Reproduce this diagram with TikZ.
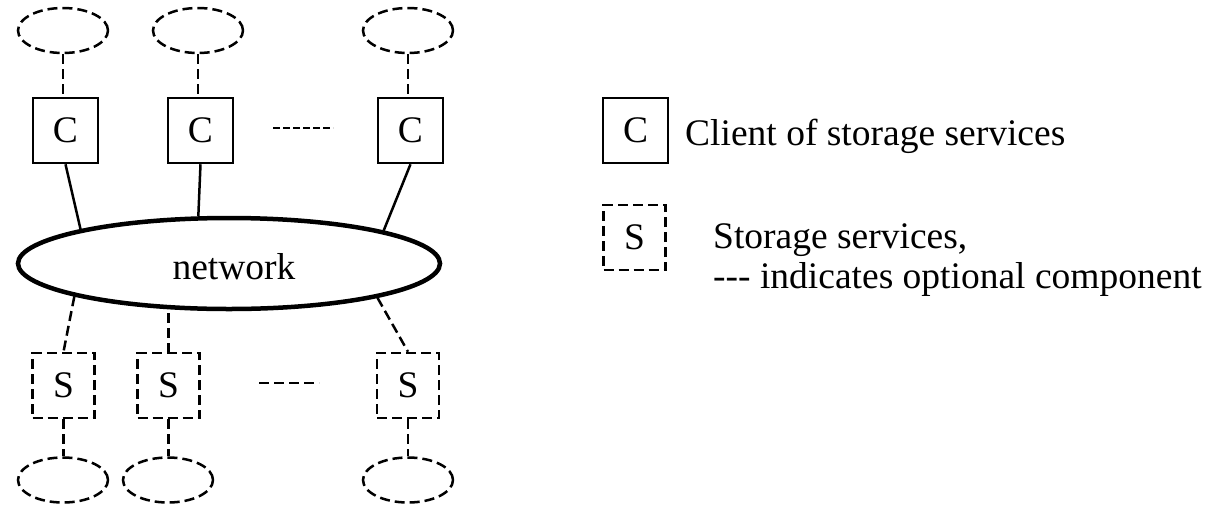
\documentclass[tikz,border=0pt]{standalone}
\usepackage{fontspec}
\setmainfont{Liberation Serif}
\usetikzlibrary{shapes.geometric}
\begin{document}
\begin{tikzpicture}[x=1pt,y=-1pt,
  every node/.style={font=\fontsize{37.5}{45}\selectfont},
  dsh/.style={dash pattern=on 10pt off 5pt},
  cbox/.style={draw, line width=2.5pt, minimum width=65pt, minimum height=65pt, inner sep=0pt},
  sbox/.style={draw, line width=2.5pt, dsh, minimum width=62pt, minimum height=65pt, inner sep=0pt},
  oval/.style={ellipse, draw, line width=2.5pt, dsh, minimum width=90pt, minimum height=45pt, inner sep=0pt},
  netw/.style={ellipse, draw, line width=4.5pt, minimum width=422pt, minimum height=91pt, inner sep=0pt},
  link/.style={line width=2.5pt},
  optlink/.style={line width=2.5pt, dsh},
  txt/.style={anchor=base west, inner sep=0pt}]
\useasboundingbox (0,0) rectangle (1207,507);

% top optional ellipses
\node[oval] (e1) at (63,30.5) {};
\node[oval] (e2) at (198,30.5) {};
\node[oval] (e3) at (408,30.5) {};

% clients
\node[cbox] (c1) at (65.5,130.5) {C};
\node[cbox] (c2) at (200.5,130.5) {C};
\node[cbox] (c3) at (410.5,130.5) {C};

% network
\node[netw] (net) at (229,263.5) {\hspace*{10pt}\raisebox{-3pt}[\height][\depth]{network}};

% storage
\node[sbox] (s1) at (63.5,385.5) {S};
\node[sbox] (s2) at (168.5,385.5) {S};
\node[sbox] (s3) at (408,385.5) {S};

% bottom optional ellipses
\node[oval] (b1) at (63,480) {};
\node[oval] (b2) at (168,480) {};
\node[oval] (b3) at (408,480) {};

% connectors
\draw[optlink] (e1.south) -- (e1.south |- c1.north);
\draw[optlink] (e2.south) -- (e2.south |- c2.north);
\draw[optlink] (e3.south) -- (e3.south |- c3.north);

\draw[link] (c1.south) -- (net.167.8);
\draw[link] (c2.south) -- (net.123);
\draw[link] (c3.south) -- (net.12.2);

\draw[optlink] (net.192.2) -- (s1.north);
\draw[optlink, shorten <=2pt] (s2.north |- net.south) -- (s2.north);
\draw[optlink] (net.347.8) -- (s3.north);

\draw[optlink] (s1.south) -- (s1.south |- b1.north);
\draw[optlink] (s2.south) -- (s2.south |- b2.north);
\draw[optlink] (s3.south) -- (s3.south |- b3.north);

% ellipsis dashes
\draw[line width=2.5pt, dash pattern=on 7pt off 3pt] (273,128) -- (333,128);
\draw[line width=2.5pt, dash pattern=on 10pt off 5pt] (259,383) -- (319,383);

% legend
\node[cbox] (lc) at (635.5,130.5) {C};
\node[txt] (lct) at (685,145) {Client of storage services};
\node[sbox] (ls) at (634.5,237.5) {S};
\node[txt] (lst1) at (713,248) {Storage services,};
\node[txt] (lst2) at (713,288) {\mbox{-}\mbox{-}\mbox{-} indicates optional component};
\end{tikzpicture}
\end{document}
